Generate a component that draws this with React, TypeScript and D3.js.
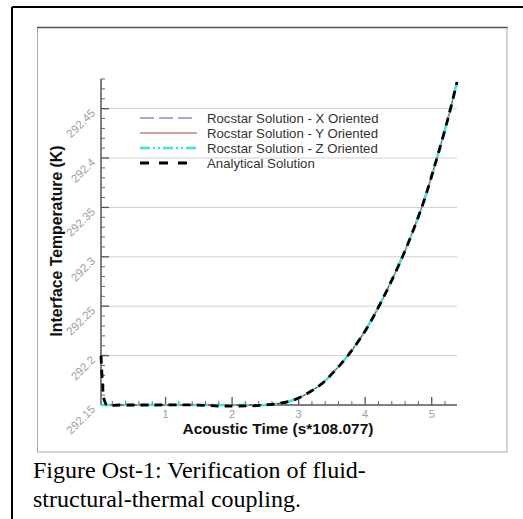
import React from "react";
import * as d3 from "d3";

// Acoustic time samples (s*108.077)
const analyticTime = [0.03, 0.05, 0.08, 0.12, 0.3, 0.8, 1.4, 1.8, 2.1, 2.5, 2.92, 3.32, 3.52, 3.74, 4.0, 4.23, 4.56, 4.86, 5.07, 5.26, 5.38];
const analyticTemp = [292.2, 292.175, 292.155, 292.15, 292.15, 292.15, 292.15, 292.149, 292.149, 292.15, 292.155, 292.17, 292.183, 292.2, 292.225, 292.253, 292.3, 292.352, 292.398, 292.444, 292.477];

const rocstarTime = [0.03, 0.3, 0.8, 1.4, 1.8, 2.1, 2.5, 2.92, 3.32, 3.52, 3.74, 4.0, 4.23, 4.56, 4.86, 5.07, 5.26, 5.38];
const rocstarX = [292.15, 292.15, 292.15, 292.15, 292.15, 292.15, 292.15, 292.155, 292.17, 292.183, 292.2, 292.225, 292.253, 292.3, 292.352, 292.398, 292.444, 292.477];
const rocstarY = [292.15, 292.15, 292.15, 292.15, 292.15, 292.15, 292.15, 292.155, 292.17, 292.183, 292.2, 292.225, 292.253, 292.3, 292.352, 292.398, 292.444, 292.477];
const rocstarZ = [292.15, 292.15, 292.15, 292.15, 292.15, 292.15, 292.15, 292.155, 292.17, 292.183, 292.2, 292.225, 292.253, 292.3, 292.352, 292.398, 292.444, 292.477];

const xTicks = [1, 2, 3, 4, 5];
const xTickLabels = ["1", "2", "3", "4", "5"];
const yTicks = [292.15, 292.2, 292.25, 292.3, 292.35, 292.4, 292.45];
const yTickLabels = ["292.15", "292.2", "292.25", "292.3", "292.35", "292.4", "292.45"];

const legendLabels = [
  "Rocstar Solution - X Oriented",
  "Rocstar Solution - Y Oriented",
  "Rocstar Solution - Z Oriented",
  "Analytical Solution",
];

const SANS = "'Liberation Sans', Arial, sans-serif";
const SERIF = "'Liberation Serif', 'Times New Roman', serif";

export default function App() {
  const x = d3.scaleLinear().domain([0.03, 5.38]).range([101, 457]);
  const y = d3.scaleLinear().domain([292.15, 292.48]).range([405, 79]);

  const line = (ts: number[], vs: number[]) =>
    d3
      .line<number>()
      .x((_, i) => x(ts[i]))
      .y((v) => y(v))
      .curve(d3.curveCatmullRom.alpha(0.5))(vs) || "";

  const xMinor = d3.range(0.2, 5.3, 0.2).filter((v) => Math.abs(v - Math.round(v)) > 0.01);
  const yMinor = d3.range(292.16, 292.481, 0.01).filter(
    (v) => !yTicks.some((t) => Math.abs(t - v) < 0.001)
  );

  const series = [
    { vs: rocstarX, ts: rocstarTime, stroke: "#8c8cd0", w: 1.3, dash: "9,5", legDash: "14,5" },
    { vs: rocstarY, ts: rocstarTime, stroke: "#b23c3c", w: 1.2, dash: "", legDash: "" },
    { vs: rocstarZ, ts: rocstarTime, stroke: "#3fe3e3", w: 2.6, dash: "10,3,2,3,2,3", legDash: "10,3,2,3,2,3" },
    { vs: analyticTemp, ts: analyticTime, stroke: "#000", w: 2.8, dash: "8,6", legDash: "9,10" },
  ];

  return (
    <svg
      width={523}
      height={519}
      style={{ position: "absolute", left: 0, top: 0, background: "#fff" }}
    >
      {/* outer frame */}
      <line x1={12} y1={7} x2={523} y2={7} stroke="#000" strokeWidth={2} />
      <line x1={12} y1={7} x2={12} y2={519} stroke="#000" strokeWidth={2} />

      {/* inner panel */}
      <rect x={37.5} y={27.5} width={469.5} height={424.5} fill="#fff" stroke="#a8a8a8" strokeWidth={1} />
      <line x1={37} y1={27.5} x2={507.5} y2={27.5} stroke="#555" strokeWidth={1.5} />

      {/* gridlines */}
      {yTicks.slice(1).map((t) => (
        <line key={t} x1={101} x2={457} y1={y(t)} y2={y(t)} stroke="#d0d0d0" strokeWidth={1} />
      ))}

      {/* y axis */}
      <line x1={101} x2={101} y1={79} y2={405} stroke="#555" strokeWidth={1.5} />
      {yTicks.map((t) => (
        <line key={t} x1={101} x2={109} y1={y(t)} y2={y(t)} stroke="#555" strokeWidth={1.3} />
      ))}
      {yMinor.map((t) => (
        <line key={t} x1={101} x2={105} y1={y(t)} y2={y(t)} stroke="#666" strokeWidth={1} />
      ))}
      {yTicks.map((t, i) => (
        <text
          key={t}
          transform={`translate(96,${y(t) + 5}) rotate(-45)`}
          textAnchor="end"
          fontFamily={SANS}
          fontSize={11.5}
          fill="#a0a0a0"
        >
          {yTickLabels[i]}
        </text>
      ))}

      {/* x axis */}
      <line x1={101} x2={457} y1={405} y2={405} stroke="#555" strokeWidth={1.5} />
      {xTicks.map((t) => (
        <line key={t} x1={x(t)} x2={x(t)} y1={405} y2={397} stroke="#555" strokeWidth={1.3} />
      ))}
      {xMinor.map((t) => (
        <line key={t} x1={x(t)} x2={x(t)} y1={405} y2={401} stroke="#666" strokeWidth={1} />
      ))}
      {xTicks.map((t, i) => (
        <text key={t} x={x(t)} y={418} textAnchor="middle" fontFamily={SANS} fontSize={11} fill="#a0a0a0">
          {xTickLabels[i]}
        </text>
      ))}

      {/* axis titles */}
      <text x={278} y={434} textAnchor="middle" fontFamily={SANS} fontSize={15.5} fontWeight="bold" fill="#111">
        Acoustic Time (s*108.077)
      </text>
      <text
        transform="translate(62,241) rotate(-90)"
        textAnchor="middle"
        fontFamily={SANS}
        fontSize={15.8}
        fontWeight="bold"
        fill="#111"
      >
        Interface Temperature (K)
      </text>

      {/* series */}
      {series.map((s, i) => (
        <path
          key={i}
          d={line(s.ts, s.vs)}
          fill="none"
          stroke={s.stroke}
          strokeWidth={s.w}
          strokeDasharray={s.dash || undefined}
        />
      ))}

      {/* legend */}
      {series.map((s, i) => (
        <g key={i} transform={`translate(0,${118 + i * 15})`}>
          <line x1={140} x2={197} y1={0} y2={0} stroke={s.stroke} strokeWidth={s.w} strokeDasharray={s.legDash || undefined} />
          <text x={207} y={4.5} fontFamily={SANS} fontSize={13.2} fill="#333">
            {legendLabels[i]}
          </text>
        </g>
      ))}

      {/* caption */}
      <text x={33} y={478} fontFamily={SERIF} fontSize={24} fill="#000">
        Figure Ost-1: Verification of fluid-
      </text>
      <text x={33} y={507} fontFamily={SERIF} fontSize={24} fill="#000">
        structural-thermal coupling.
      </text>
    </svg>
  );
}
